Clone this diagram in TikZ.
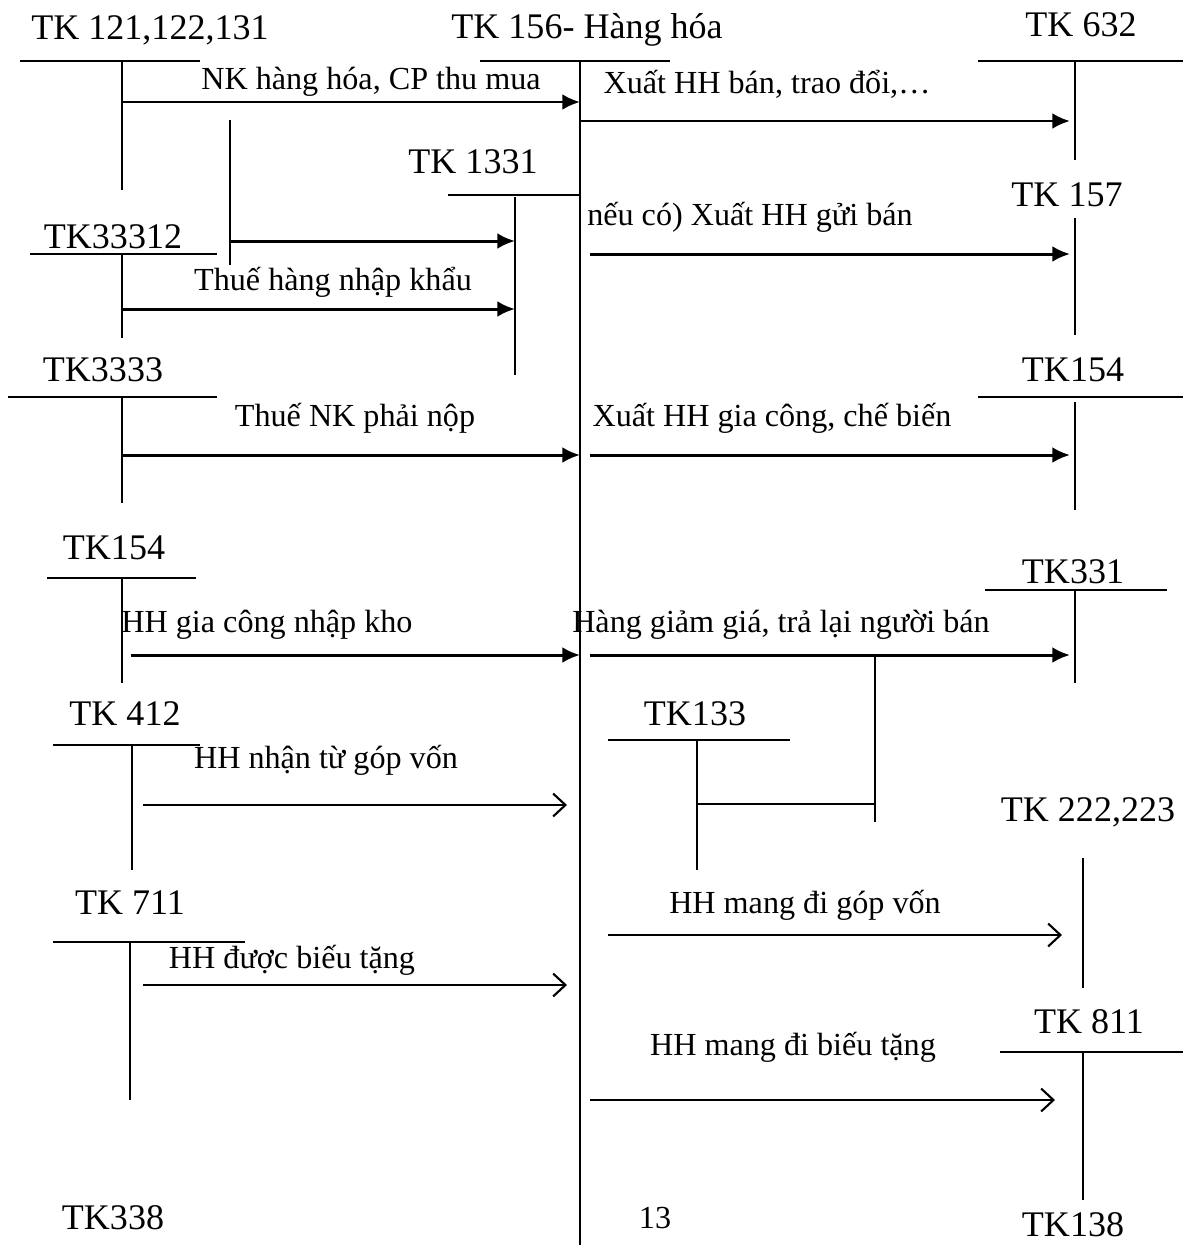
\documentclass[tikz,border=0pt]{standalone}
\usepackage{fontspec}
\setmainfont{Liberation Serif}
\usetikzlibrary{arrows.meta,positioning}

\tikzset{
  acct/.style={font=\fontsize{20.5}{24}\selectfont, inner sep=0pt},
  lbl/.style={font=\fontsize{18.3}{22}\selectfont, inner sep=0pt},
  tline/.style={line width=0.9pt},
  fillarrow/.style={line width=1.7pt, -{Latex[length=10pt,width=9pt]}},
  openarrow/.style={line width=1.2pt, -{Straight Barb[length=7pt,width=13pt]}}
}

\begin{document}
\begin{tikzpicture}[x=0.02cm,y=-0.02cm]
\useasboundingbox (0,0) rectangle (1190,1245);

% T accounts, left side
\node[acct] (t121) at (150,30) {TK 121,122,131};
\draw[tline] (20,61) -- (200,61) (122,61) -- (122,190);
\node[acct] (t33312) at (113,237) {TK33312};
\draw[tline] (30,254) -- (217,254) (122,254) -- (122,338);
\draw[tline] (230,120) -- (230,265);
\node[acct] (t3333) at (103,370) {TK3333};
\draw[tline] (8,397) -- (217,397) (122,397) -- (122,503);
\node[acct] (t154a) at (114,548) {TK154};
\draw[tline] (47,578) -- (196,578) (122,578) -- (122,683);
\node[acct] (t412) at (125,714) {TK 412};
\draw[tline] (53,745) -- (200,745) (132,745) -- (132,870);
\node[acct] (t711) at (130,903) {TK 711};
\draw[tline] (53,942) -- (245,942) (130,942) -- (130,1100);
\node[acct] (t338) at (113,1218) {TK338};

% main account
\node[acct] (t156) at (587,30) {TK 156- Hàng hóa};
\draw[tline] (480,61) -- (670,61) (580,61) -- (580,1245);
\node[acct] (t1331) at (473,162) {TK 1331};
\draw[tline] (448,195) -- (580,195) (515,197) -- (515,375);
\node[acct] (t133) at (695,714) {TK133};
\draw[tline] (608,740) -- (790,740) (697,740) -- (697,870);
\node[lbl] (pg) at (655,1218) {13};

% T accounts, right side
\node[acct] (t632) at (1081,25) {TK 632};
\draw[tline] (978,61) -- (1183,61) (1075,61) -- (1075,160);
\node[acct] (t157) at (1067,195) {TK 157};
\draw[tline] (1075,218) -- (1075,335);
\node[acct] (t154b) at (1073,370) {TK154};
\draw[tline] (978,397) -- (1183,397) (1075,402) -- (1075,510);
\node[acct] (t331) at (1073,572) {TK331};
\draw[tline] (985,590) -- (1167,590) (1075,590) -- (1075,683);
\node[acct] (t222) at (1088,812) {TK 222,223};
\draw[tline] (1083,858) -- (1083,988);
\node[acct] (t811) at (1089,1022) {TK 811};
\draw[tline] (1000,1052) -- (1183,1052) (1083,1052) -- (1083,1200);
\node[acct] (t138) at (1073,1225) {TK138};

% arrow ends
\coordinate (nk1) at (122,102);  \coordinate (nk2) at (580,102);
\coordinate (xb1) at (580,121);  \coordinate (xb2) at (1070,121);
\coordinate (vat1) at (230,241); \coordinate (vat2) at (515,241);
\coordinate (gb1) at (590,254);  \coordinate (gb2) at (1070,254);
\coordinate (tn1) at (122,309);  \coordinate (tn2) at (515,309);
\coordinate (nk3) at (122,455);  \coordinate (nk4) at (580,455);
\coordinate (gc1) at (590,455);  \coordinate (gc2) at (1070,455);
\coordinate (nh1) at (131,655);  \coordinate (nh2) at (580,655);
\coordinate (gg1) at (590,655);  \coordinate (gg2) at (1070,655);
\coordinate (gg3) at (875,655);  \coordinate (gg4) at (875,822);
\coordinate (gg5) at (875,804);  \coordinate (gg6) at (697,804);
\coordinate (gv1) at (143,805);  \coordinate (gv2) at (567,805);
\coordinate (mg1) at (608,935);  \coordinate (mg2) at (1062,935);
\coordinate (bt1) at (143,985);  \coordinate (bt2) at (567,985);
\coordinate (mb1) at (590,1100); \coordinate (mb2) at (1055,1100);

% arrows
\draw[fillarrow] (nk1) -- (nk2);
\draw[fillarrow] (xb1) -- (xb2);
\draw[fillarrow] (vat1) -- (vat2);
\draw[fillarrow] (gb1) -- (gb2);
\draw[fillarrow] (tn1) -- (tn2);
\draw[fillarrow] (nk3) -- (nk4);
\draw[fillarrow] (gc1) -- (gc2);
\draw[fillarrow] (nh1) -- (nh2);
\draw[fillarrow] (gg1) -- (gg2);
\draw[tline] (gg3) -- (gg4) (gg5) -- (gg6);
\draw[openarrow] (gv1) -- (gv2);
\draw[openarrow] (mg1) -- (mg2);
\draw[openarrow] (bt1) -- (bt2);
\draw[openarrow] (mb1) -- (mb2);

% labels
\node[lbl] (lnk) at (371,82) {NK hàng hóa, CP thu mua};
\node[lbl] (lxb) at (767,84) {Xuất HH bán, trao đổi,…};
\node[lbl] (lgb) at (750,217) {nếu có) Xuất HH gửi bán};
\node[lbl] (ltn) at (333,282) {Thuế hàng nhập khẩu};
\node[lbl] (lnk2) at (355,418) {Thuế NK phải nộp};
\node[lbl] (lgc) at (772,418) {Xuất HH gia công, chế biến};
\node[lbl] (lnh) at (267,625) {HH gia công nhập kho};
\node[lbl] (lgg) at (781,625) {Hàng giảm giá, trả lại người bán};
\node[lbl] (lgv) at (326,760) {HH nhận từ góp vốn};
\node[lbl] (lmg) at (805,905) {HH mang đi góp vốn};
\node[lbl] (lbt) at (292,960) {HH được biếu tặng};
\node[lbl] (lmb) at (793,1047) {HH mang đi biếu tặng};
\end{tikzpicture}
\end{document}
